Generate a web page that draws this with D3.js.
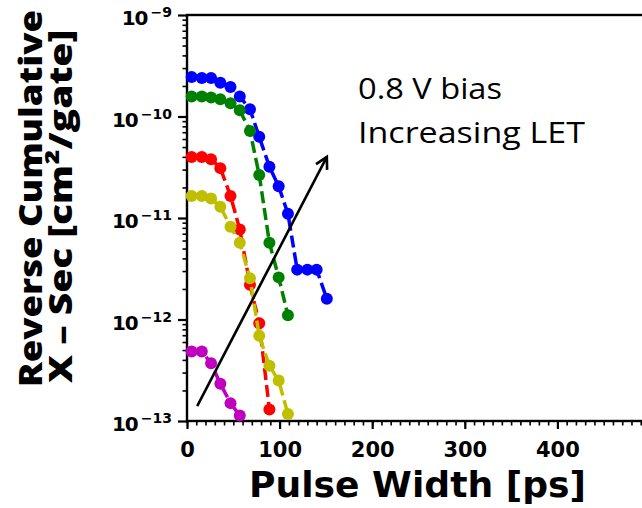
<!DOCTYPE html>
<html lang="en">
    <head>
        <meta charset="utf-8" />
        <title>Reverse Cumulative Cross Section</title>
        <style>
            body { margin: 0; background: #fff; }
            svg text { fill: #000; }
            .tick text { font-family: "DejaVu Sans", sans-serif; font-weight: bold; }
        </style>
        <script type="text/javascript" src="https://cdn.jsdelivr.net/npm/d3@7/dist/d3.min.js"></script>
    </head>
    <body>
        <script type="text/javascript">
            // pulse width bins [ps], shared by all series
            var pulseWidth = [5, 16, 26, 36, 47, 57, 68, 78, 89, 99, 109, 119, 130, 140, 151];

            // reverse cumulative cross section [cm^2/gate], one array per LET
            var blueSec = [2.45e-10, 2.4e-10, 2.4e-10, 2.15e-10, 1.95e-10, 1.57e-10, 1.18e-10, 6.3e-11,
                           3.2e-11, 2.05e-11, 1.1e-11, 3.1e-12, 3.1e-12, 3.1e-12, 1.6e-12];
            var greenSec = [1.57e-10, 1.57e-10, 1.54e-10, 1.48e-10, 1.35e-10, 1.15e-10, 7.2e-11, 2.65e-11,
                            5.7e-12, 2.6e-12, 1.1e-12];
            var redSec = [4.0e-11, 4.0e-11, 3.8e-11, 3.1e-11, 1.65e-11, 7.7e-12, 2.2e-12, 9.2e-13, 1.3e-13];
            var yellowSec = [1.65e-11, 1.65e-11, 1.56e-11, 1.29e-11, 8.2e-12, 5.7e-12, 2.55e-12, 6.9e-13,
                             3.5e-13, 2.5e-13, 1.17e-13];
            var magentaSec = [4.85e-13, 4.85e-13, 3.7e-13, 2.33e-13, 1.5e-13, 1.13e-13];

            var seriesColors = ['#0000ff', '#008000', '#ff0000', '#bfbf00', '#bf00bf'];

            var xTicks = [0, 100, 200, 300, 400];
            var yDecades = [-13, -12, -11, -10, -9];

            // arrow annotation, in data units
            var arrowFrom = [11, 1.4e-13];
            var arrowTo = [151, 4.0e-11];
            var noteLines = ['0.8 V bias', 'Increasing LET'];

            var width = 642,
                height = 508;

            var x = d3.scaleLinear()
                        .domain([0, 500])
                        .range([187, 650]);

            var y = d3.scaleLog()
                        .domain([1e-13, 1e-9])
                        .range([421, 15]);

            var svg = d3.select('body')
                        .append('svg')
                        .attr('width', width)
                        .attr('height', height);

            // minor ticks
            var yMinor = [];
            yDecades.slice(0, -1).forEach(function(e) {
                for (var k = 2; k <= 9; k++) yMinor.push(k * Math.pow(10, e));
            });

            var yMinorAxis = svg.append('g')
                .attr('transform', 'translate(187,0)')
                .call(d3.axisLeft(y).tickValues(yMinor).tickSize(4.5).tickFormat(''));
            yMinorAxis.select('.domain').remove();
            yMinorAxis.selectAll('line').attr('stroke-width', 1.6);

            var xMinorAxis = svg.append('g')
                .attr('transform', 'translate(0,421)')
                .call(d3.axisBottom(x).tickValues(d3.range(0, 501, 10)).tickSize(4.5).tickFormat(''));
            xMinorAxis.select('.domain').remove();
            xMinorAxis.selectAll('line').attr('stroke-width', 1.6);

            // major ticks
            var yAxis = svg.append('g')
                .attr('transform', 'translate(187,0)')
                .call(d3.axisLeft(y)
                    .tickValues(yDecades.map(function(e) { return Math.pow(10, e); }))
                    .tickSize(9)
                    .tickFormat(''));
            yAxis.select('.domain').remove();
            yAxis.selectAll('line').attr('stroke-width', 2.2);

            var yLabels = yAxis.selectAll('.tick')
                .append('text')
                .attr('x', -15)
                .attr('y', 9.5)
                .attr('text-anchor', 'end')
                .style('font-size', '20px');
            yLabels.append('tspan')
                .attr('letter-spacing', '-1')
                .text('10');
            yLabels.append('tspan')
                .attr('dx', 3)
                .attr('dy', -8)
                .style('font-size', '14px')
                .text(function(d) { return '\u2212' + Math.round(-Math.log10(d)); });

            var xAxis = svg.append('g')
                .attr('transform', 'translate(0,421)')
                .call(d3.axisBottom(x).tickValues(xTicks).tickSize(8));
            xAxis.select('.domain').remove();
            xAxis.selectAll('line').attr('stroke-width', 2.2);
            xAxis.selectAll('text')
                .attr('y', 36)
                .attr('dy', '0')
                .style('font-size', '21px');

            // frame
            svg.append('rect')
                .attr('x', x(0))
                .attr('y', y(1e-9))
                .attr('width', x(500) - x(0))
                .attr('height', y(1e-13) - y(1e-9))
                .attr('fill', 'none')
                .attr('stroke', '#000')
                .attr('stroke-width', 2.4);

            // series
            var series = [blueSec, greenSec, redSec, yellowSec, magentaSec].map(function(vals, i) {
                return {
                    color: seriesColors[i],
                    points: vals.map(function(v, j) { return [pulseWidth[j], v]; })
                };
            });

            var line = d3.line()
                .x(function(d) { return x(d[0]); })
                .y(function(d) { return y(d[1]); });

            var g = svg.selectAll('g.series')
                .data(series)
                .enter()
                .append('g')
                .attr('class', 'series');

            g.append('path')
                .attr('d', function(d) { return line(d.points); })
                .attr('fill', 'none')
                .attr('stroke', function(d) { return d.color; })
                .attr('stroke-width', 3.5)
                .attr('stroke-dasharray', '12,5');

            g.selectAll('circle')
                .data(function(d) { return d.points.map(function(p) { return { p: p, c: d.color }; }); })
                .enter()
                .append('circle')
                .attr('cx', function(d) { return x(d.p[0]); })
                .attr('cy', function(d) { return y(d.p[1]); })
                .attr('r', 6)
                .attr('fill', function(d) { return d.c; });

            // arrow
            var ax0 = x(arrowFrom[0]), ay0 = y(arrowFrom[1]),
                ax1 = x(arrowTo[0]), ay1 = y(arrowTo[1]);
            var ang = Math.atan2(ay1 - ay0, ax1 - ax0),
                headLen = 13, spread = 0.5;

            svg.append('line')
                .attr('x1', ax0).attr('y1', ay0)
                .attr('x2', ax1).attr('y2', ay1)
                .attr('stroke', '#000')
                .attr('stroke-width', 2.6);

            svg.append('path')
                .attr('d', 'M' + (ax1 - headLen * Math.cos(ang - spread)) + ',' + (ay1 - headLen * Math.sin(ang - spread)) +
                           'L' + ax1 + ',' + ay1 +
                           'L' + (ax1 - headLen * Math.cos(ang + spread)) + ',' + (ay1 - headLen * Math.sin(ang + spread)))
                .attr('fill', 'none')
                .attr('stroke', '#000')
                .attr('stroke-width', 2.6);

            // annotation text
            svg.selectAll('text.note')
                .data(noteLines)
                .enter()
                .append('text')
                .attr('class', 'note')
                .attr('x', 358)
                .attr('y', function(d, i) { return 99 + i * 44; })
                .attr('textLength', function(d, i) { return i === 0 ? 144 : 227; })
                .attr('lengthAdjust', 'spacingAndGlyphs')
                .style('font-family', '"Open Sans", sans-serif')
                .style('font-size', '30px')
                .text(function(d) { return d; });

            // axis titles
            svg.append('text')
                .attr('x', 249)
                .attr('y', 497)
                .attr('textLength', 337)
                .attr('lengthAdjust', 'spacingAndGlyphs')
                .style('font-family', '"DejaVu Sans", sans-serif')
                .style('font-weight', 'bold')
                .style('font-size', '36px')
                .text('Pulse Width [ps]');

            var yTitles = [['Reverse Cumulative', 42, 198.5, 377], ['X \u2013 Sec [cm\u00b2/gate]', 72, 206.5, 353]];
            svg.selectAll('text.ytitle')
                .data(yTitles)
                .enter()
                .append('text')
                .attr('class', 'ytitle')
                .attr('transform', function(d) { return 'translate(' + d[1] + ',' + d[2] + ') rotate(-90)'; })
                .attr('text-anchor', 'middle')
                .attr('textLength', function(d) { return d[3]; })
                .attr('lengthAdjust', 'spacingAndGlyphs')
                .style('font-family', '"Open Sans", sans-serif')
                .style('font-weight', '800')
                .style('font-size', '32px')
                .text(function(d) { return d[0]; });
        </script>
    </body>
</html>
